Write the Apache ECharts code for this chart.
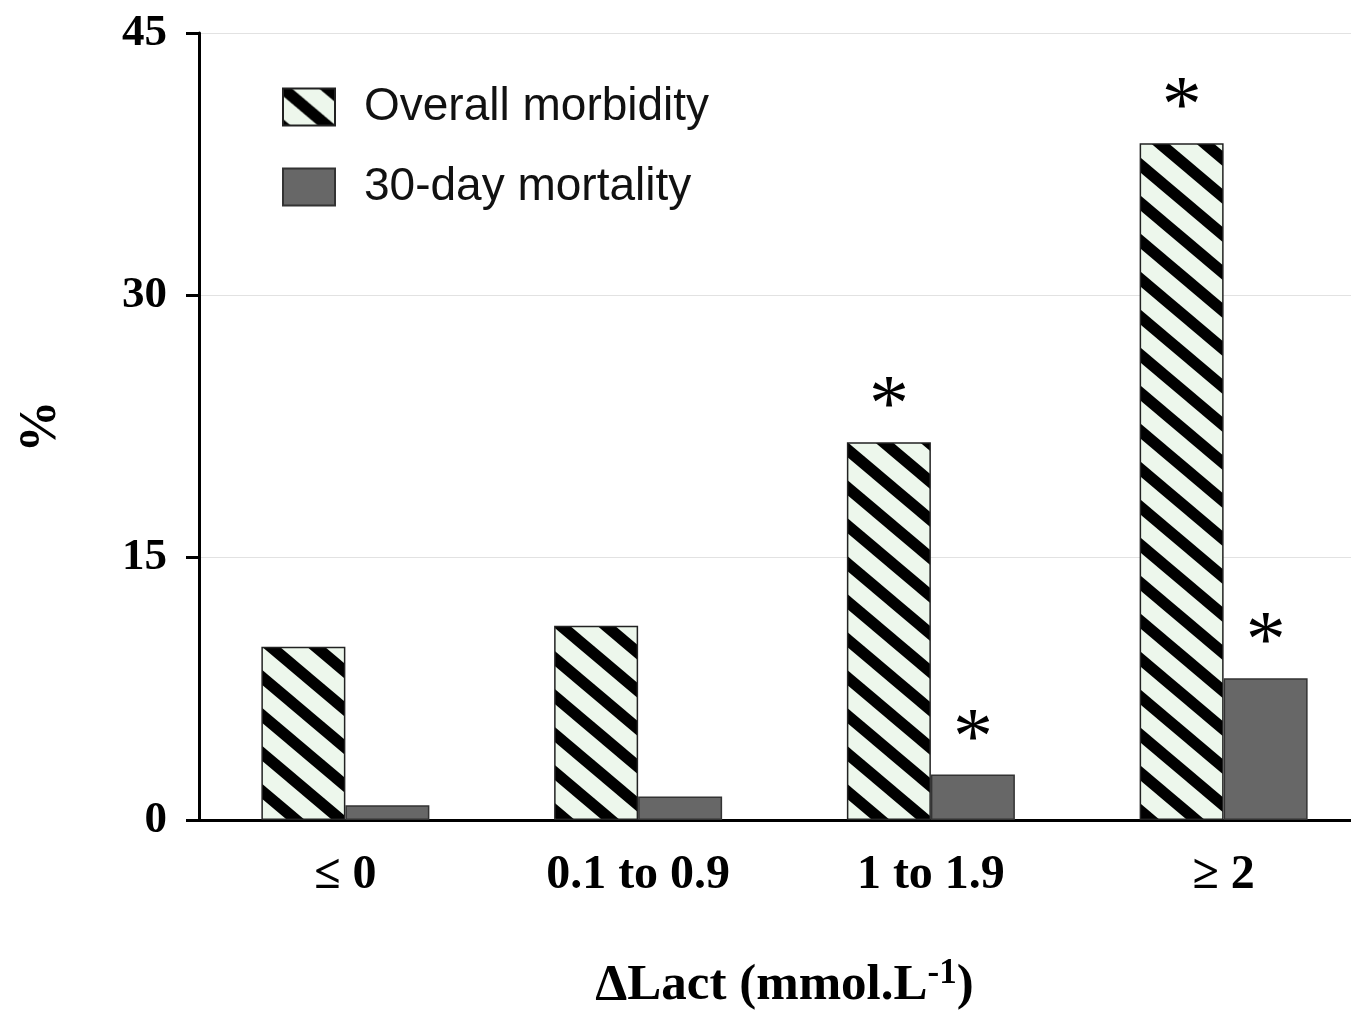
<!DOCTYPE html>
<html>
<head>
<meta charset="utf-8">
<script src="https://cdn.jsdelivr.net/npm/echarts@6/dist/echarts.min.js"></script>
<style>
html,body{margin:0;padding:0;background:#fff;}
#chart{width:1351px;height:1014px;}
</style>
</head>
<body>
<div id="chart"></div>
<script>
// ---- data ----
const categories = ['≤ 0', '0.1 to 0.9', '1 to 1.9', '≥ 2'];
const morbidity = [9.9, 11.1, 21.6, 38.7];
const mortality = [0.85, 1.35, 2.6, 8.1];
const morbiditySig = ['', '', '*', '*'];
const mortalitySig = ['', '', '*', '*'];
const yTicks = [0, 15, 30, 45];

// hatch pattern
function makeHatch() {
  const w = 45, h = 38;
  const c = document.createElement('canvas');
  c.width = w; c.height = h;
  const g = c.getContext('2d');
  g.fillStyle = '#edf7ec';
  g.fillRect(0, 0, w, h);
  g.strokeStyle = '#000';
  g.lineWidth = 11.5;
  g.lineCap = 'butt';
  for (const o of [-w, 0, w]) {
    g.beginPath();
    g.moveTo(o - w * 0.2, -h * 0.2);
    g.lineTo(o + w * 1.2, h * 1.2);
    g.stroke();
  }
  return c;
}
const hatch = { image: makeHatch(), repeat: 'repeat' };

const serif = 'Liberation Serif, Times New Roman, serif';
const chart = echarts.init(document.getElementById('chart'), null, { renderer: 'canvas' });

function sigLabel(arr) {
  return {
    show: true,
    position: 'top',
    distance: -7,
    fontFamily: serif,
    fontSize: 80,
    color: '#000',
    formatter: p => arr[p.dataIndex]
  };
}

chart.setOption({
  animation: false,
  backgroundColor: '#fff',
  grid: { left: 199, top: 33, bottom: 194, right: -19, outerBoundsMode: 'none', containLabel: false },
  legend: {
    orient: 'vertical',
    left: 277,
    top: 79,
    itemWidth: 52,
    itemHeight: 37,
    itemGap: 34,
    icon: 'rect',
    textStyle: { fontFamily: 'Liberation Sans, Arial, sans-serif', fontSize: 46, color: '#111', padding: [0, 0, 0, 24] },
    data: ['Overall morbidity', '30-day mortality']
  },
  xAxis: {
    type: 'category',
    data: categories,
    axisLine: { lineStyle: { color: '#000', width: 3 } },
    axisTick: { show: false },
    axisLabel: { fontFamily: serif, fontWeight: 'bold', fontSize: 48, color: '#000', margin: 32 },
    name: '{a|ΔLact (mmol.L}{s|-1}{a|)}',
    nameLocation: 'middle',
    nameGap: 136,
    nameTextStyle: {
      rich: {
        a: { fontFamily: serif, fontWeight: 'bold', fontSize: 51, color: '#000' },
        s: { fontFamily: serif, fontWeight: 'bold', fontSize: 35, color: '#000', verticalAlign: 'top', padding: [0, 0, 24, 0] }
      }
    }
  },
  yAxis: {
    type: 'value',
    min: 0, max: 45, interval: 15,
    axisLine: { show: true, lineStyle: { color: '#000', width: 3 } },
    axisTick: { show: true, length: 13, lineStyle: { color: '#000', width: 3 } },
    axisLabel: { fontFamily: serif, fontWeight: 'bold', fontSize: 45, color: '#000', margin: 32,
      formatter: v => yTicks.includes(v) ? String(v) : '' },
    splitLine: { show: true, lineStyle: { color: '#e2e2e2', width: 1.2 } },
    name: '%',
    nameLocation: 'middle',
    nameGap: 131,
    nameTextStyle: { fontFamily: serif, fontWeight: 'bold', fontSize: 52, color: '#000' }
  },
  series: [
    {
      name: 'Overall morbidity',
      type: 'bar',
      data: morbidity,
      barWidth: 84,
      barGap: '0%',
      itemStyle: { color: hatch, borderColor: '#222', borderWidth: 1.5 },
      label: sigLabel(morbiditySig)
    },
    {
      name: '30-day mortality',
      type: 'bar',
      data: mortality,
      barWidth: 84,
      itemStyle: { color: '#676767', borderColor: '#333', borderWidth: 1.5 },
      label: sigLabel(mortalitySig)
    }
  ]
});
</script>
</body>
</html>
